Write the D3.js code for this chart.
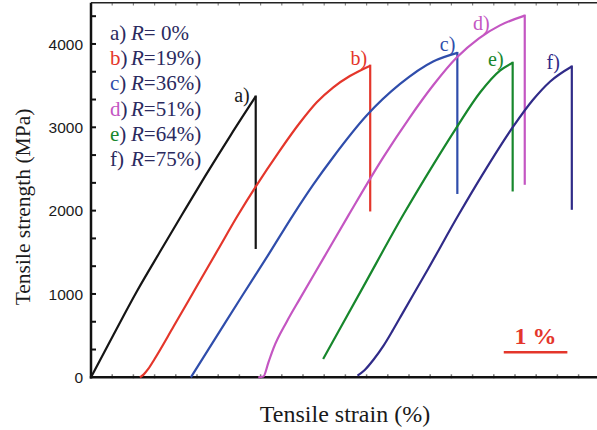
<!DOCTYPE html>
<html>
<head>
<meta charset="utf-8">
<script src="https://cdn.jsdelivr.net/npm/d3@7"></script>
<style>
  body { margin: 0; background: #fff; }
  svg { display: block; }
</style>
</head>
<body>
<script>
// values: strain in %, stress in MPa
var seriesNames = ["a)", "b)", "c)", "d)", "e)", "f)"];
var legendRatios = ["= 0%", "=19%)", "=36%)", "=51%)", "=64%)", "=75%)"];
var seriesColors = ["#151515", "#e4362b", "#2f4dab", "#c456c2", "#17872c", "#302b88"];

var strainA = [0, 0.36, 0.72, 1.08, 1.43, 1.8, 2.2, 2.59];
var stressA = [0, 520, 1030, 1500, 1950, 2420, 2910, 3370];
var strainB = [0.77, 0.83, 0.9, 1.0, 1.3, 1.65, 2.0, 2.3, 2.6, 2.95, 3.29, 3.55, 3.81, 4.07, 4.39];
var stressB = [0, 35, 100, 220, 612, 1074, 1536, 1932, 2300, 2700, 3060, 3300, 3480, 3615, 3740];
var strainC = [1.57, 1.97, 2.37, 2.78, 3.18, 3.5, 3.81, 4.33, 4.86, 5.38, 5.76];
var stressC = [0, 485, 970, 1460, 1950, 2318, 2644, 3138, 3520, 3790, 3893];
var strainD = [2.63, 2.71, 2.79, 2.87, 3.08, 3.29, 3.67, 4.05, 4.6, 5.0, 5.38, 5.75, 6.1, 6.43, 6.82];
var stressD = [0, 10, 180, 350, 670, 950, 1448, 1946, 2645, 3105, 3504, 3837, 4068, 4223, 4340];
var strainE = [3.65, 4.28, 4.91, 5.38, 5.75, 6.12, 6.43, 6.63];
var stressE = [220, 1085, 1950, 2550, 3000, 3420, 3680, 3775];
var strainF = [4.19, 4.3, 4.45, 4.6, 4.75, 4.9, 5.3, 5.78, 6.17, 6.64, 6.95, 7.22, 7.56];
var stressF = [20, 85, 220, 380, 570, 770, 1300, 1950, 2450, 3010, 3330, 3550, 3730];
// stress where each curve ends after the vertical drop
var dropStress = [1540, 1990, 2200, 2310, 2230, 2010];

var yTickValues = [0, 1000, 2000, 3000, 4000];
var scaleBarStrain = [6.49, 7.49];
var scaleBarStress = 300;

function drawChart() {
  var width = 597;
  var height = 430;

  var svg = d3.select("body")
    .append("svg")
    .attr("width", width)
    .attr("height", height);

  var x = d3.scaleLinear().domain([0, 8]).range([91, 599.8]);
  var y = d3.scaleLinear().domain([0, 4500]).range([377.3, 2.3]);

  var strains = [strainA, strainB, strainC, strainD, strainE, strainF];
  var stresses = [stressA, stressB, stressC, stressD, stressE, stressF];

  // minor ticks on x every 1/3 %, on y every 1000/3 MPa
  var xMinor = d3.range(1, 24).map(function(i) { return i / 3; });
  var yMinor = d3.range(1, 14).map(function(i) { return i * 1000 / 3; });

  // x ticks: small grey marks sitting on the bottom and top lines
  svg.append("g")
    .selectAll("line")
    .data(xMinor)
    .enter()
    .append("line")
      .attr("x1", function(d) { return x(d); })
      .attr("x2", function(d) { return x(d); })
      .attr("y1", y(0) - 3)
      .attr("y2", y(0) + 1)
      .attr("stroke", "#777")
      .attr("stroke-width", 1.5);

  svg.append("g")
    .selectAll("line")
    .data(xMinor)
    .enter()
    .append("line")
      .attr("x1", function(d) { return x(d); })
      .attr("x2", function(d) { return x(d); })
      .attr("y1", 2.7)
      .attr("y2", 5.5)
      .attr("stroke", "#888")
      .attr("stroke-width", 1.2);

  // y ticks pointing inward
  svg.append("g")
    .selectAll("line")
    .data(yMinor)
    .enter()
    .append("line")
      .attr("x1", x(0))
      .attr("x2", x(0) + 5)
      .attr("y1", function(d) { return y(d); })
      .attr("y2", function(d) { return y(d); })
      .attr("stroke", "#111")
      .attr("stroke-width", 2);

  svg.append("g")
    .selectAll("text")
    .data(yTickValues)
    .enter()
    .append("text")
      .attr("x", x(0) - 8)
      .attr("y", function(d) { return y(d); })
      .attr("dy", "0.36em")
      .attr("text-anchor", "end")
      .style("font-family", "'Liberation Sans', Arial, sans-serif")
      .style("font-size", "15.5px")
      .style("fill", "#1a1a1a")
      .text(function(d) { return d; });

  // frame: left, bottom, top
  svg.append("line")
    .attr("x1", x(0)).attr("x2", x(0))
    .attr("y1", 2.7).attr("y2", y(0) + 1.2)
    .attr("stroke", "#111").attr("stroke-width", 2.5);
  svg.append("line")
    .attr("x1", x(0) - 1.2).attr("x2", width)
    .attr("y1", y(0)).attr("y2", y(0))
    .attr("stroke", "#111").attr("stroke-width", 2.5);
  svg.append("line")
    .attr("x1", x(0)).attr("x2", width)
    .attr("y1", 2.7).attr("y2", 2.7)
    .attr("stroke", "#222").attr("stroke-width", 1.5);

  var line = d3.line()
    .x(function(d) { return x(d[0]); })
    .y(function(d) { return y(d[1]); })
    .curve(d3.curveMonotoneX);

  var labelOffsets = [[-6, 6], [-3, -1], [-2, -2], [-35, 14], [-9, 3], [-12, 3]];

  strains.forEach(function(s, i) {
    var pts = s.map(function(v, j) { return [v, stresses[i][j]]; });
    var peak = pts[pts.length - 1];

    svg.append("path")
      .attr("d", line(pts))
      .attr("fill", "none")
      .attr("stroke", seriesColors[i])
      .attr("stroke-width", 2.2);

    svg.append("line")
      .attr("x1", x(peak[0])).attr("x2", x(peak[0]))
      .attr("y1", y(peak[1]) - 1).attr("y2", y(dropStress[i]))
      .attr("stroke", seriesColors[i])
      .attr("stroke-width", 2.2);

    svg.append("text")
      .attr("x", x(peak[0]) + labelOffsets[i][0])
      .attr("y", y(peak[1]) + labelOffsets[i][1])
      .attr("text-anchor", "end")
      .style("font-family", "'Liberation Serif', 'Times New Roman', serif")
      .style("font-size", "20px")
      .style("fill", i === 0 ? "#1a1a1a" : seriesColors[i])
      .text(seriesNames[i]);
  });

  // legend
  var legend = svg.append("g")
    .style("font-family", "'Liberation Serif', 'Times New Roman', serif")
    .style("font-size", "21px")
    .style("fill", "#2b2a5e");

  seriesNames.forEach(function(name, i) {
    var t = legend.append("text")
      .attr("x", 110)
      .attr("y", 40 + i * 25.2);
    t.append("tspan")
      .style("fill", i === 0 || i === 5 ? "#2b2a5e" : seriesColors[i])
      .text(name.charAt(0));
    t.append("tspan").text(")");
    t.append("tspan")
      .attr("x", 131)
      .style("font-style", "italic")
      .text("R");
    t.append("tspan").text(legendRatios[i]);
  });

  // 1 % scale bar
  svg.append("line")
    .attr("x1", x(scaleBarStrain[0])).attr("x2", x(scaleBarStrain[1]))
    .attr("y1", y(scaleBarStress)).attr("y2", y(scaleBarStress))
    .attr("stroke", "#e4362b").attr("stroke-width", 2.5);
  svg.append("text")
    .attr("x", (x(scaleBarStrain[0]) + x(scaleBarStrain[1])) / 2)
    .attr("y", y(scaleBarStress) - 8)
    .attr("text-anchor", "middle")
    .style("font-family", "'Liberation Serif', 'Times New Roman', serif")
    .style("font-size", "24px")
    .style("font-weight", "bold")
    .style("fill", "#e4362b")
    .text("1 %");

  // axis titles
  svg.append("text")
    .attr("x", 345)
    .attr("y", 422)
    .attr("text-anchor", "middle")
    .style("font-family", "'Liberation Serif', 'Times New Roman', serif")
    .style("font-size", "24px")
    .style("fill", "#1a1a1a")
    .text("Tensile strain (%)");

  svg.append("text")
    .attr("transform", "translate(30,207) rotate(-90)")
    .attr("text-anchor", "middle")
    .style("font-family", "'Liberation Serif', 'Times New Roman', serif")
    .style("font-size", "21.5px")
    .style("fill", "#1a1a1a")
    .text("Tensile strength (MPa)");
}

drawChart();
</script>
</body>
</html>
